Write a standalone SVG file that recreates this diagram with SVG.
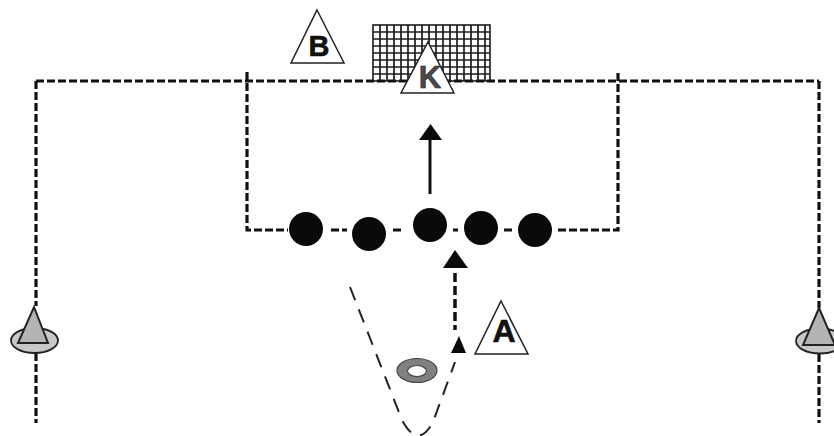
<svg xmlns="http://www.w3.org/2000/svg" width="834" height="436" viewBox="0 0 834 436">
<style>
.d{fill:none;stroke:#111;stroke-width:3.200;stroke-dasharray:8 3}
.t{fill:#fff;stroke:#222;stroke-width:1.500}
.l{font-family:"Liberation Sans",Arial,sans-serif;font-weight:bold;text-anchor:middle;fill:#111;stroke:#111;stroke-width:.6}
.p{fill:#0a0a0a}
.c{fill:#b4b4b4;stroke:#222;stroke-width:2}
.e{fill:#c8c8c8;stroke:#222;stroke-width:1.800}
</style>
<rect width="834" height="436" fill="#fff"/>
<g id="goal">
<rect x="373" y="25" width="117" height="56" fill="#fff" stroke="#333" stroke-width="1.800"/>
<path d="M380 25V81M387 25V81M394 25V81M401 25V81M408 25V81M415 25V81M422 25V81M429 25V81M436 25V81M443 25V81M450 25V81M457 25V81M464 25V81M471 25V81M478 25V81M485 25V81M373 32H490M373 39H490M373 46H490M373 53H490M373 60H490M373 67H490M373 74H490" fill="none" stroke="#1c1c1c" stroke-width="1.700"/>
</g>
<g id="connectors">
<path class="d" d="M36 81H819"/>
<path class="d" d="M36 81V306M36 353V423"/>
<path class="d" d="M819 81V308M819 354V423"/>
<path class="d" d="M247 72V230H288M331 230H347M393 230H403M453 230H458M504 230H512M558 230H618V72"/>
<path d="M430 194V140" fill="none" stroke="#111" stroke-width="3"/>
<path d="M419 140H442L430.500 124Z" fill="#0a0a0a"/>
<path d="M455 273V330" fill="none" stroke="#111" stroke-width="3.500" stroke-dasharray="9 4"/>
<path d="M443 268H468L455 250Z" fill="#0a0a0a"/>
<path d="M350 287L402 420Q418 450 433 422L455 362" fill="none" stroke="#222" stroke-width="2" stroke-dasharray="14 10"/>
<path d="M451 353H466L459 336Z" fill="#0a0a0a"/>
</g>
<g id="node-b"><path class="t" d="M317 10L344 63H291Z"/><text class="l" x="319" y="56" font-size="29">B</text></g>
<g id="node-k"><path class="t" d="M428 42L454 93H401Z"/><text class="l" x="430" y="88" font-size="31" style="fill:#4a4a4a;stroke:#222">K</text></g>
<g id="node-a"><path class="t" d="M501 301L528 354H475Z"/><text class="l" x="504" y="342" font-size="32">A</text></g>
<g id="player-1"><circle class="p" cx="306" cy="229" r="17"/></g>
<g id="player-2"><circle class="p" cx="369" cy="234" r="17"/></g>
<g id="player-3"><circle class="p" cx="430" cy="225" r="17"/></g>
<g id="player-4"><circle class="p" cx="481" cy="228" r="17"/></g>
<g id="player-5"><circle class="p" cx="535" cy="230" r="17"/></g>
<g id="ring"><ellipse cx="417" cy="370.500" rx="20" ry="12" fill="#808080" stroke="#444" stroke-width="1.200"/><ellipse cx="417" cy="371" rx="9.500" ry="5.500" fill="#fff" stroke="#444" stroke-width="1.200"/></g>
<g id="cone-left"><ellipse class="e" cx="34.500" cy="340.500" rx="23.500" ry="12.500"/><path class="c" d="M34 307L48 343H18Z"/></g>
<g id="cone-right"><ellipse class="e" cx="820" cy="341" rx="24" ry="12.500"/><path class="c" d="M819 308L835 345H803Z"/></g>
</svg>
